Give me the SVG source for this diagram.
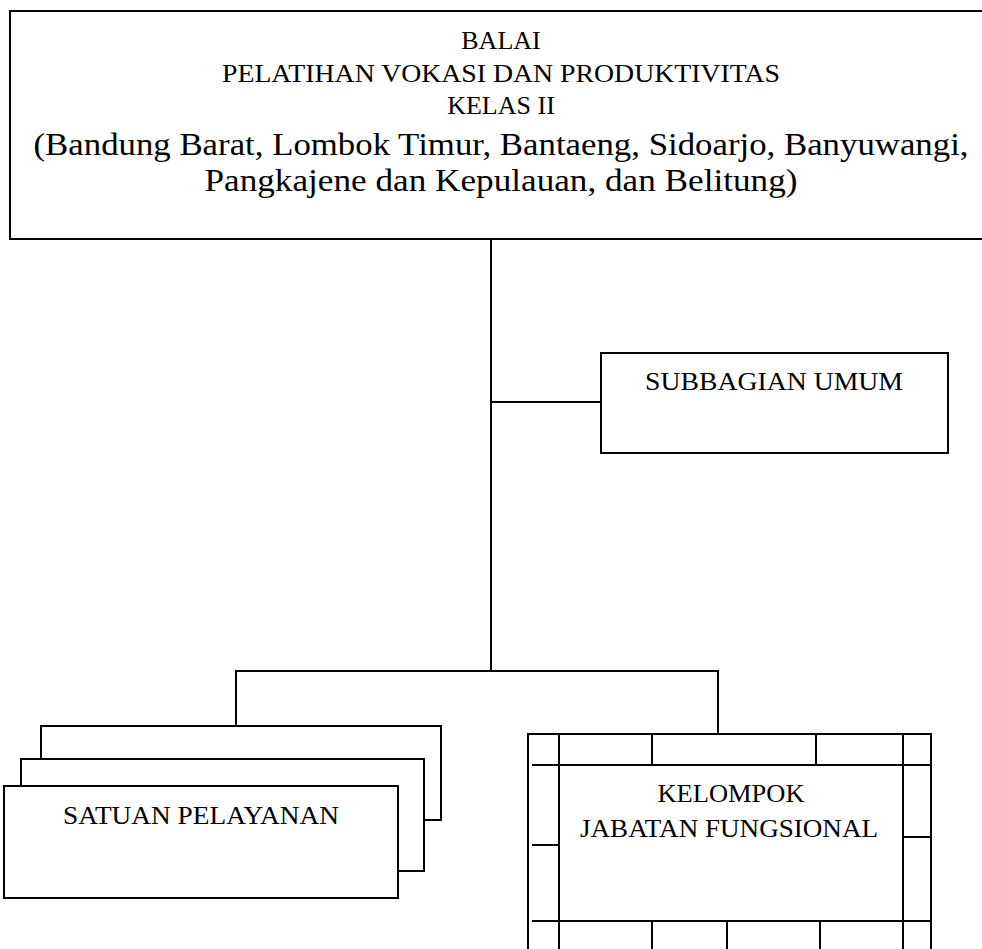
<svg xmlns="http://www.w3.org/2000/svg" width="982" height="949" viewBox="0 0 982 949">
<style>
.box{fill:#fff;stroke:#000;stroke-width:2}
.ln{fill:none;stroke:#000;stroke-width:2}
.t{font-family:"Liberation Serif","DejaVu Serif",serif;fill:#000;text-anchor:middle}
.s{font-size:26px}
.b{font-size:32px}
.n{font-size:26px}
</style>
<rect width="982" height="949" fill="#fff"/>
<g id="connectors">
<line class="ln" x1="491" y1="239" x2="491" y2="671"/>
<line class="ln" x1="490" y1="402" x2="601" y2="402"/>
<polyline class="ln" points="236,727 236,671 718,671 718,734"/>
</g>
<g id="balai">
<rect class="box" x="10" y="11" width="990" height="228"/>
<text class="t s" x="501" y="49">BALAI</text>
<text class="t s" x="501" y="82" textLength="558" lengthAdjust="spacingAndGlyphs">PELATIHAN VOKASI DAN PRODUKTIVITAS</text>
<text class="t s" x="501" y="114">KELAS II</text>
<text class="t b" x="501" y="155" textLength="935" lengthAdjust="spacingAndGlyphs">(Bandung Barat, Lombok Timur, Bantaeng, Sidoarjo, Banyuwangi,</text>
<text class="t b" x="501" y="191" textLength="593" lengthAdjust="spacingAndGlyphs">Pangkajene dan Kepulauan, dan Belitung)</text>
</g>
<g id="subbagian-umum">
<rect class="box" x="601" y="353" width="347" height="100"/>
<text class="t n" x="774" y="390" textLength="258" lengthAdjust="spacingAndGlyphs">SUBBAGIAN UMUM</text>
</g>
<g id="satuan-pelayanan">
<rect class="box" x="41" y="726" width="400" height="94"/>
<rect class="box" x="21" y="759" width="403" height="112"/>
<rect class="box" x="4" y="786" width="394" height="112"/>
<text class="t n" x="201" y="824" textLength="276" lengthAdjust="spacingAndGlyphs">SATUAN PELAYANAN</text>
</g>
<g id="kelompok-jabatan-fungsional">
<path class="ln" d="M528,951 V734 H931 V951 M559,734 V951 M903,734 V951 M532,765 H931 M652,734 V765 M816,734 V765 M532,845 H559 M903,837 H931 M532,921 H931 M652,921 V951 M727,921 V951 M820,921 V951"/>
<text class="t n" x="731" y="802" textLength="147" lengthAdjust="spacingAndGlyphs">KELOMPOK</text>
<text class="t n" x="729" y="837" textLength="298" lengthAdjust="spacingAndGlyphs">JABATAN FUNGSIONAL</text>
</g>
</svg>
